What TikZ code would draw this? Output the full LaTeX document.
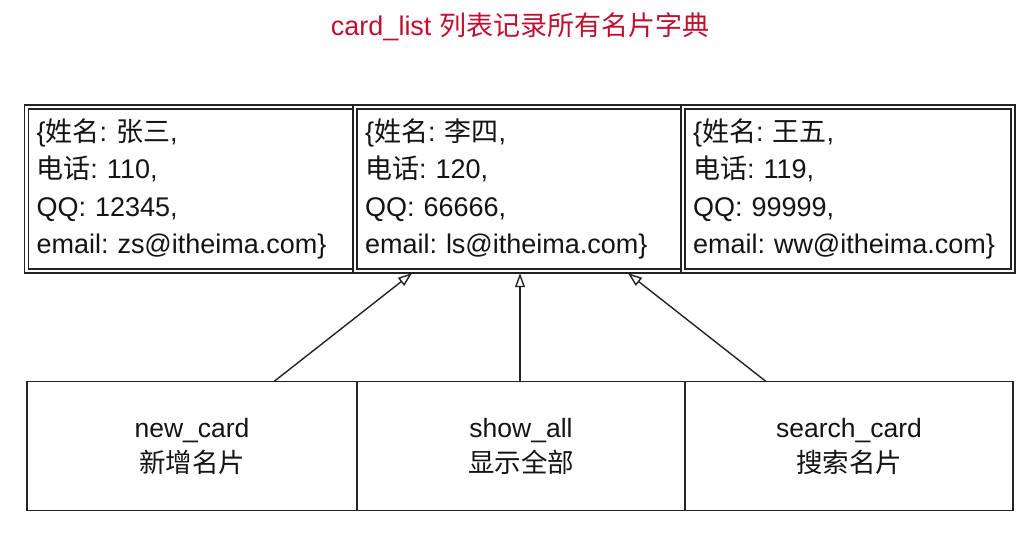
\documentclass[tikz,border=0pt]{standalone}
\usepackage{fontspec}
\setmainfont{Liberation Sans}
\newfontfamily\cjk{Noto Sans CJK SC}
\newcommand{\zh}[1]{{\cjk #1}}
\frenchspacing
\usetikzlibrary{arrows.meta}
\definecolor{titlered}{RGB}{192,16,48}
\definecolor{ink}{RGB}{20,20,20}
\definecolor{linec}{RGB}{35,35,35}
\begin{document}
\begin{tikzpicture}[x=1pt,y=-1pt,
  card/.style={draw=linec, double=white, double distance=2.8pt, line width=1.5pt, fill=white,
    minimum height=164pt, text width=310pt, inner xsep=10pt, inner ysep=0pt, outer sep=0pt,
    align=left, text=ink, font=\fontsize{27}{37.5}\selectfont},
  func/.style={draw=linec, line width=1.5pt, fill=white, minimum height=129pt, inner sep=0pt,
    outer sep=0pt, align=center, text=ink, font=\fontsize{26.5}{35}\selectfont},
  arr/.style={draw=linec, line width=1.4pt, -{Triangle[open, length=14pt, width=10pt, line width=1.4pt]}}]
\useasboundingbox (0,0) rectangle (1031,537);
\node[text=titlered, font=\fontsize{27}{30}\selectfont] (title) at (520,27) {card\_list \zh{列表记录所有名片字典}};
\node[card] (d1) at (191.5,189) {\{\zh{姓名}: \zh{张三},\\\zh{电话}: 110,\\QQ: 12345,\\email: zs@itheima.com\}};
\node[card] (d2) at (520,189) {\{\zh{姓名}: \zh{李四},\\\zh{电话}: 120,\\QQ: 66666,\\email: ls@itheima.com\}};
\node[card] (d3) at (848,189) {\{\zh{姓名}: \zh{王五},\\\zh{电话}: 119,\\QQ: 99999,\\email: ww@itheima.com\}};
\node[func, minimum width=330pt] (new) at (192,446) {new\_card\\\zh{新增名片}};
\node[func, minimum width=328pt] (show) at (521,446) {show\_all\\\zh{显示全部}};
\node[func, minimum width=328pt] (search) at (849,446) {search\_card\\\zh{搜索名片}};
\draw[arr] ([xshift=82pt]new.north) -- ([xshift=-108pt,yshift=-2.2pt]d2.south);
\draw[arr] ([xshift=-1pt]show.north) -- ([yshift=-2.2pt]d2.south);
\draw[arr] ([xshift=-83pt]search.north) -- ([xshift=108pt,yshift=-2.2pt]d2.south);
\end{tikzpicture}
\end{document}
